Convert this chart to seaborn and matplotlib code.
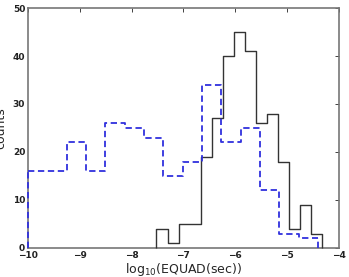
import numpy as np
import pandas as pd
import matplotlib
matplotlib.use("Agg")
import matplotlib.pyplot as plt
import seaborn as sns

# Blue dashed histogram
blue_start = -10.0
blue_width = 0.3733
blue_counts = [16, 16, 22, 16, 26, 25, 23, 15, 18, 34, 22, 25, 12, 3, 2]

# Black solid histogram
black_start = -7.52
black_width = 0.2133
black_counts = [4, 1, 5, 5, 19, 27, 40, 45, 41, 26, 28, 18, 4, 9, 3]

xticks = [-10, -9, -8, -7, -6, -5, -4]
yticks = [0, 10, 20, 30, 40, 50]

sns.set_style("white")
plt.rcParams['font.family'] = ['DejaVu Sans']

fig = plt.figure(figsize=(3.49, 2.77), dpi=100)
ax = fig.add_axes([0.080, 0.105, 0.891, 0.866])

def hist_df(start, width, counts):
    edges = start + width * np.arange(len(counts) + 1)
    centers = (edges[:-1] + edges[1:]) / 2
    return pd.DataFrame({"x": centers, "w": counts}), edges

def draw(start, width, counts, **kw):
    df, edges = hist_df(start, width, counts)
    n0 = len(ax.lines)
    sns.histplot(data=df, x="x", weights="w", binwidth=width,
                 binrange=(float(edges[0]), float(edges[-1])),
                 element="step", fill=False, ax=ax, **kw)
    # outline drops to baseline at both ends
    vl = ax.vlines([edges[0], edges[-1]], 0, [counts[0], counts[-1]],
                   colors=kw["color"], linewidth=kw["linewidth"],
                   linestyles=kw.get("linestyle", "solid"))
    vl.set_zorder(3)
    vl.set_clip_on(False)
    for ln in ax.lines[n0:]:
        ln.set_zorder(3)

draw(black_start, black_width, black_counts, color="#333333", linewidth=1.0)
draw(blue_start, blue_width, blue_counts, color="#3030dd", linewidth=1.3,
     linestyle=(0, (3.5, 2)))

ax.set_xlim(-10, -4)
ax.set_ylim(0, 50)
ax.set_xticks(xticks)
ax.set_yticks(yticks)
ax.set_xticklabels([f"\u2212{abs(t)}" for t in xticks], fontsize=6.5, fontweight="bold")
ax.set_yticklabels([str(t) for t in yticks], fontsize=6.5, fontweight="bold")
ax.tick_params(direction="in", length=3, width=0.6, top=True, right=True, pad=2, colors="#222222")
for s in ax.spines.values():
    s.set_color("#777777")
    s.set_linewidth(1.2)
ax.set_xlabel(r"log$_{10}$(EQUAD(sec))", fontsize=9, labelpad=1)
ax.set_ylabel("counts", fontsize=9, labelpad=4)

fig.savefig("out.png", dpi=100)
